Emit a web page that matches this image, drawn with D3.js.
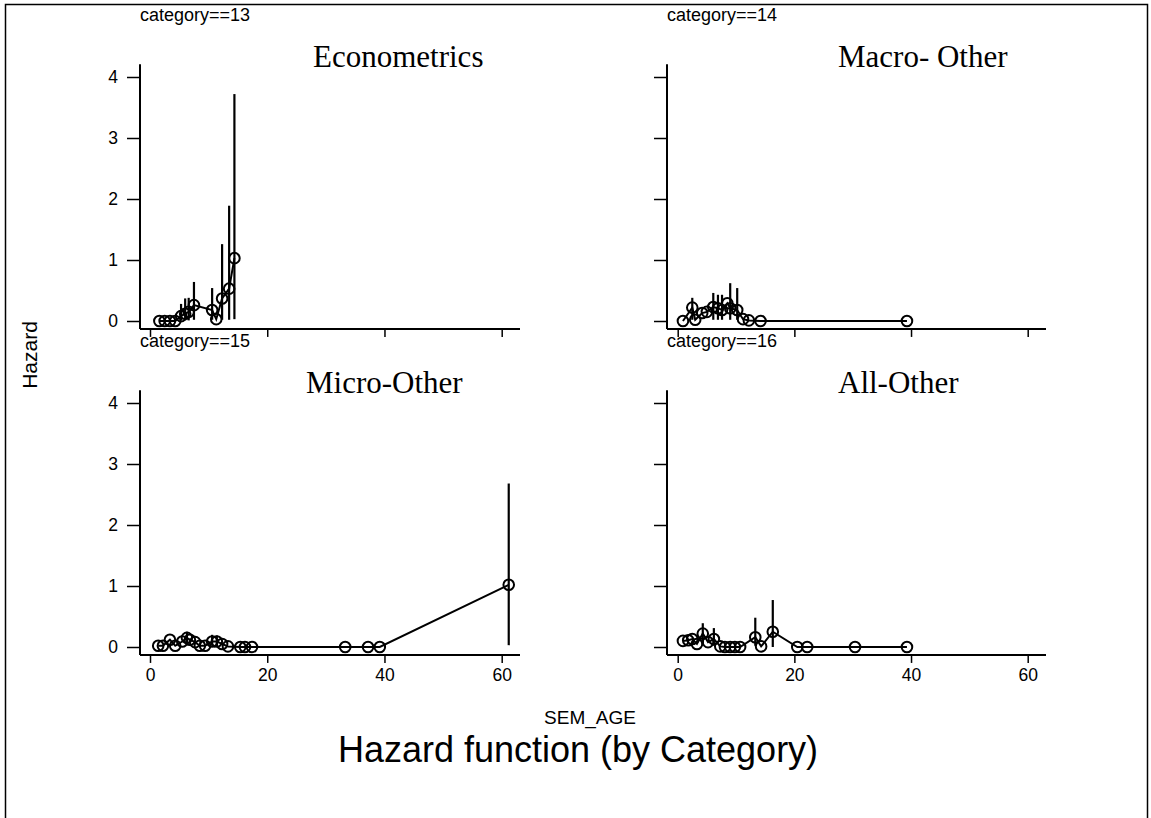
<!DOCTYPE html>
<html>
<head>
<meta charset="utf-8">
<script src="https://cdn.jsdelivr.net/npm/d3@7"></script>
<style>
  html, body { margin: 0; padding: 0; background: #fff; }
  svg { display: block; }
  text { font-family: "Liberation Sans", Arial, sans-serif; fill: #000; }
  .ttl { font-family: "Liberation Serif", "Times New Roman", serif; }
</style>
</head>
<body>
<script>
// Panels (categories), in reading order
const categories = ["13", "14", "15", "16"];
const fieldNames = ["Econometrics", "Macro- Other", "Micro-Other", "All-Other"];

// Hazard estimates per category: semester age, hazard, confidence bounds (null = none drawn)
const ages13 = [1.6, 2.5, 3.4, 4.3, 5.3, 6.0, 6.6, 7.5, 10.6, 11.3, 12.3, 13.5, 14.4];
const haz13  = [0, 0, 0, 0, 0.08, 0.12, 0.15, 0.26, 0.18, 0.03, 0.37, 0.53, 1.03];
const lo13   = [null, null, null, null, 0.01, 0.01, 0.01, 0.02, 0.02, null, 0.02, 0.02, 0.03];
const hi13   = [null, null, null, null, 0.28, 0.37, 0.38, 0.64, 0.54, null, 1.26, 1.89, 3.72];

const ages14 = [0.9, 2.5, 3.0, 4.2, 5.0, 6.1, 6.9, 7.6, 8.5, 9.0, 10.2, 11.2, 12.2, 14.2, 39.3];
const haz14  = [0, 0.22, 0.02, 0.13, 0.15, 0.23, 0.21, 0.18, 0.29, 0.21, 0.18, 0.03, 0.01, 0, 0];
const lo14   = [null, 0.02, null, null, null, 0.02, 0.02, 0.02, null, 0.02, 0.02, null, null, null, null];
const hi14   = [null, 0.38, null, null, null, 0.46, 0.43, 0.43, null, 0.62, 0.54, null, null, null, null];

const ages15 = [1.4, 2.2, 3.4, 4.3, 5.5, 6.3, 6.8, 7.7, 8.5, 9.4, 10.6, 11.4, 12.3, 13.3, 15.4, 16.2, 17.4, 33.3, 37.2, 39.2, 61.2];
const haz15  = [0.02, 0.02, 0.12, 0.02, 0.09, 0.15, 0.12, 0.08, 0.02, 0.02, 0.09, 0.09, 0.05, 0.01, 0, 0, 0, 0, 0, 0, 1.02];
const lo15   = [null, null, null, null, null, 0.04, null, null, null, null, 0.02, 0.02, null, null, null, null, null, null, null, null, 0.03];
const hi15   = [null, null, null, null, null, 0.25, null, null, null, null, 0.20, 0.19, null, null, null, null, null, null, null, null, 2.68];

const ages16 = [0.9, 1.8, 2.5, 3.3, 4.3, 5.2, 6.2, 7.3, 8.1, 9.0, 9.8, 10.7, 13.3, 14.3, 16.3, 20.5, 22.2, 30.4, 39.3];
const haz16  = [0.10, 0.11, 0.13, 0.05, 0.22, 0.08, 0.13, 0.01, 0, 0, 0, 0, 0.16, 0.01, 0.25, 0, 0, 0, 0];
const lo16   = [null, null, null, null, 0.03, null, 0.02, null, null, null, null, null, 0.02, null, 0.0, null, null, null, null];
const hi16   = [null, null, null, null, 0.39, null, 0.31, null, null, null, null, null, 0.48, null, 0.77, null, null, null, null];

const xTicks = [0, 20, 40, 60];
const yTicks = [0, 1, 2, 3, 4];

const series = [
  { ages: ages13, haz: haz13, lo: lo13, hi: hi13 },
  { ages: ages14, haz: haz14, lo: lo14, hi: hi14 },
  { ages: ages15, haz: haz15, lo: lo15, hi: hi15 },
  { ages: ages16, haz: haz16, lo: lo16, hi: hi16 }
];

const W = 1151, H = 818;
const svg = d3.select("body").append("svg").attr("width", W).attr("height", H);

// outer frame
svg.append("rect").attr("x", 5.5).attr("y", 4.5).attr("width", 1142).attr("height", 830)
  .attr("fill", "none").attr("stroke", "#000").attr("stroke-width", 1.5);

// panel layout: left edge of plot axis, x-range for 0..60, y-range for 0..4
const cols = [
  { axisX: 140, x0: 150, x60: 501.7, xEnd: 520 },
  { axisX: 667, x0: 677.7, x60: 1027.7, xEnd: 1046 }
];
const rows = [
  { y0: 321, y4: 77 },
  { y0: 647, y4: 403 }
];
// left edge of each field name, measured from the panel's y axis
const titleOffset = [173, 171, 166, 171];

const sans = "Liberation Sans, Arial, sans-serif";

categories.forEach((cat, i) => {
  const c = cols[i % 2], r = rows[Math.floor(i / 2)];
  const bottomRow = Math.floor(i / 2) === 1;
  const leftCol = i % 2 === 0;
  const x = d3.scaleLinear().domain([0, 60]).range([c.x0, c.x60]);
  const y = d3.scaleLinear().domain([0, 4]).range([r.y0, r.y4]);
  const axisY = y(-0.13);
  const g = svg.append("g");

  // y axis
  const yAxis = d3.axisLeft(y).tickValues(yTicks).tickSize(13).tickPadding(9)
    .tickFormat(leftCol ? d3.format("d") : () => "");
  const gy = g.append("g").attr("transform", `translate(${c.axisX},0)`).call(yAxis);
  gy.attr("font-size", null).attr("font-family", null);
  gy.select(".domain").remove();
  gy.append("line").attr("x1", 0).attr("x2", 0).attr("y1", y(4.21)).attr("y2", axisY)
    .attr("stroke", "#000").attr("stroke-width", 2);
  gy.selectAll(".tick line").attr("stroke-width", 1.5);
  gy.selectAll(".tick text").style("font-size", "17.5px").style("font-family", sans);

  // x axis
  const xAxis = d3.axisBottom(x).tickValues(xTicks).tickSize(8).tickPadding(6)
    .tickFormat(bottomRow ? d3.format("d") : () => "");
  const gx = g.append("g").attr("transform", `translate(0,${axisY})`).call(xAxis);
  gx.attr("font-size", null).attr("font-family", null);
  gx.select(".domain").remove();
  gx.append("line").attr("x1", c.axisX).attr("x2", c.xEnd).attr("y1", 0).attr("y2", 0)
    .attr("stroke", "#000").attr("stroke-width", 2);
  gx.selectAll(".tick line").attr("stroke-width", 1.5);
  gx.selectAll(".tick text").style("font-size", "17.5px").style("font-family", sans);

  // panel labels
  g.append("text").attr("x", c.axisX).attr("y", r.y4 - 56)
    .style("font-size", "18px").text("category==" + cat);
  g.append("text").attr("class", "ttl").attr("x", c.axisX + titleOffset[i]).attr("y", r.y4 - 10)
    .style("font-size", "31px").text(fieldNames[i]);

  // data
  const s = series[i];
  const pts = s.ages.map((a, k) => ({ a, h: s.haz[k], lo: s.lo[k], hi: s.hi[k] }));

  g.append("path").datum(pts)
    .attr("d", d3.line().x(d => x(d.a)).y(d => y(d.h)))
    .attr("fill", "none").attr("stroke", "#000").attr("stroke-width", 2);

  g.selectAll(".ci").data(pts.filter(d => d.hi !== null)).enter().append("line")
    .attr("x1", d => x(d.a)).attr("x2", d => x(d.a))
    .attr("y1", d => y(d.lo)).attr("y2", d => y(d.hi))
    .attr("stroke", "#000").attr("stroke-width", 2.2);

  g.selectAll(".pt").data(pts).enter().append("circle")
    .attr("cx", d => x(d.a)).attr("cy", d => y(d.h)).attr("r", 5.3)
    .attr("fill", "none").attr("stroke", "#000").attr("stroke-width", 2);
});

// shared axis titles
svg.append("text").attr("transform", "translate(37,355) rotate(-90)")
  .attr("text-anchor", "middle").style("font-size", "21px").text("Hazard");
svg.append("text").attr("x", 590).attr("y", 724).attr("text-anchor", "middle")
  .style("font-size", "19px").text("SEM_AGE");
svg.append("text").attr("x", 578).attr("y", 762).attr("text-anchor", "middle")
  .style("font-size", "36px").text("Hazard function (by Category)");
</script>
</body>
</html>
